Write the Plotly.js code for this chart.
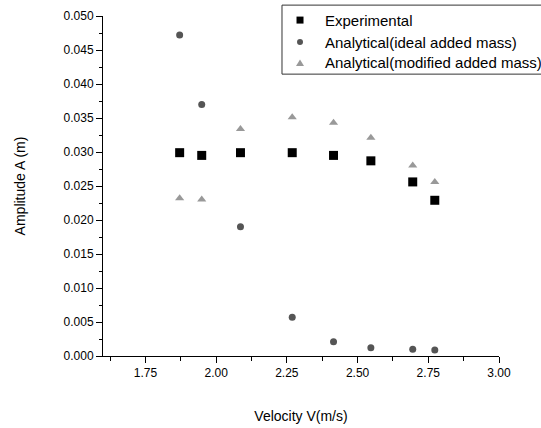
<!DOCTYPE html>
<html>
<head>
<meta charset="utf-8">
<script src="https://cdn.plot.ly/plotly-3.0.1.min.js"></script>
<style>html,body{margin:0;padding:0;background:#fff;}#chart{width:541px;height:428px;}</style>
</head>
<body>
<div id="chart"></div>
<script>
const velocity = [1.871, 1.949, 2.086, 2.269, 2.415, 2.547, 2.695, 2.773];
const experimental = [0.0299, 0.0295, 0.0299, 0.0299, 0.0295, 0.0287, 0.0256, 0.0229];
const idealAddedMass = [0.0472, 0.0370, 0.0190, 0.0057, 0.0021, 0.0012, 0.0010, 0.0009];
const modifiedAddedMass = [0.0232, 0.0230, 0.0334, 0.0351, 0.0343, 0.0321, 0.0280, 0.0256];
const seriesNames = ['Experimental', 'Analytical(ideal added mass)', 'Analytical(modified added mass)'];
const seriesColors = ['#000000', '#555555', '#999999'];
const xTicks = [1.75, 2.00, 2.25, 2.50, 2.75, 3.00];
const xTickText = ['1.75', '2.00', '2.25', '2.50', '2.75', '3.00'];
const yTicks = [0, 0.005, 0.010, 0.015, 0.020, 0.025, 0.030, 0.035, 0.040, 0.045, 0.050];
const yTickText = ['0.000', '0.005', '0.010', '0.015', '0.020', '0.025', '0.030', '0.035', '0.040', '0.045', '0.050'];

const font = 'Arial, "Liberation Sans", sans-serif';
const traces = [
  {x: velocity, y: experimental, name: seriesNames[0], mode: 'markers', type: 'scatter',
   marker: {symbol: 'square', size: 9, color: seriesColors[0]}},
  {x: velocity, y: idealAddedMass, name: seriesNames[1], mode: 'markers', type: 'scatter',
   marker: {symbol: 'circle', size: 7, color: seriesColors[1]}},
  {x: velocity, y: modifiedAddedMass, name: seriesNames[2], mode: 'markers', type: 'scatter',
   marker: {symbol: 'triangle-up', size: 8, color: seriesColors[2]}}
];

// Hand-built legend (the reference legend overflows the right edge of the figure)
const legRowY = [0.988, 0.9235, 0.8618];
const legMarkX = 0.4975, legTextX = 0.5556;
const shapes = [
  {type: 'rect', xref: 'paper', yref: 'paper', x0: 0.452, x1: 1.12, y0: 0.829, y1: 1.032,
   line: {color: '#333', width: 1}, fillcolor: 'rgba(0,0,0,0)'},
  {type: 'rect', xref: 'paper', yref: 'paper', xsizemode: 'pixel', ysizemode: 'pixel',
   xanchor: legMarkX, yanchor: legRowY[0], x0: -3.5, x1: 3.5, y0: -3.5, y1: 3.5,
   fillcolor: seriesColors[0], line: {width: 0}},
  {type: 'circle', xref: 'paper', yref: 'paper', xsizemode: 'pixel', ysizemode: 'pixel',
   xanchor: legMarkX, yanchor: legRowY[1], x0: -3, x1: 3, y0: -3, y1: 3,
   fillcolor: seriesColors[1], line: {width: 0}},
  {type: 'path', xref: 'paper', yref: 'paper', xsizemode: 'pixel', ysizemode: 'pixel',
   xanchor: legMarkX, yanchor: legRowY[2], path: 'M-4,-3 L4,-3 L0,3.5 Z',
   fillcolor: seriesColors[2], line: {width: 0}}
];
const annotations = seriesNames.map((n, i) => ({
  xref: 'paper', yref: 'paper', x: legTextX, y: legRowY[i], xanchor: 'left', yanchor: 'middle',
  text: n, showarrow: false, font: {family: font, size: 15, color: '#000'}
}));

const layout = {
  width: 541, height: 428,
  margin: {l: 103, r: 42, t: 16, b: 72, pad: 0},
  paper_bgcolor: '#ffffff', plot_bgcolor: '#ffffff',
  font: {family: font, size: 12, color: '#000'},
  showlegend: false,
  shapes: shapes,
  annotations: annotations,
  xaxis: {range: [1.6, 3.0], tickvals: xTicks, ticktext: xTickText,
    showgrid: false, zeroline: false, showline: true, linecolor: '#000', linewidth: 1,
    ticks: 'outside', ticklen: 6, tickcolor: '#000',
    minor: {ticks: 'outside', ticklen: 4, dtick: 0.125, tick0: 1.625, tickcolor: '#000'},
    title: {text: 'Velocity V(m/s)', font: {size: 14}, standoff: 31}},
  yaxis: {range: [0, 0.05], tickvals: yTicks, ticktext: yTickText,
    showgrid: false, zeroline: false, showline: true, linecolor: '#000', linewidth: 1,
    ticks: 'outside', ticklen: 6, tickcolor: '#000',
    minor: {ticks: 'outside', ticklen: 3, dtick: 0.0025, tick0: 0, tickcolor: '#000'},
    title: {text: 'Amplitude A (m)', font: {size: 14}, standoff: 34}}
};
Plotly.newPlot('chart', traces, layout, {displayModeBar: false, staticPlot: true});
</script>
</body>
</html>
